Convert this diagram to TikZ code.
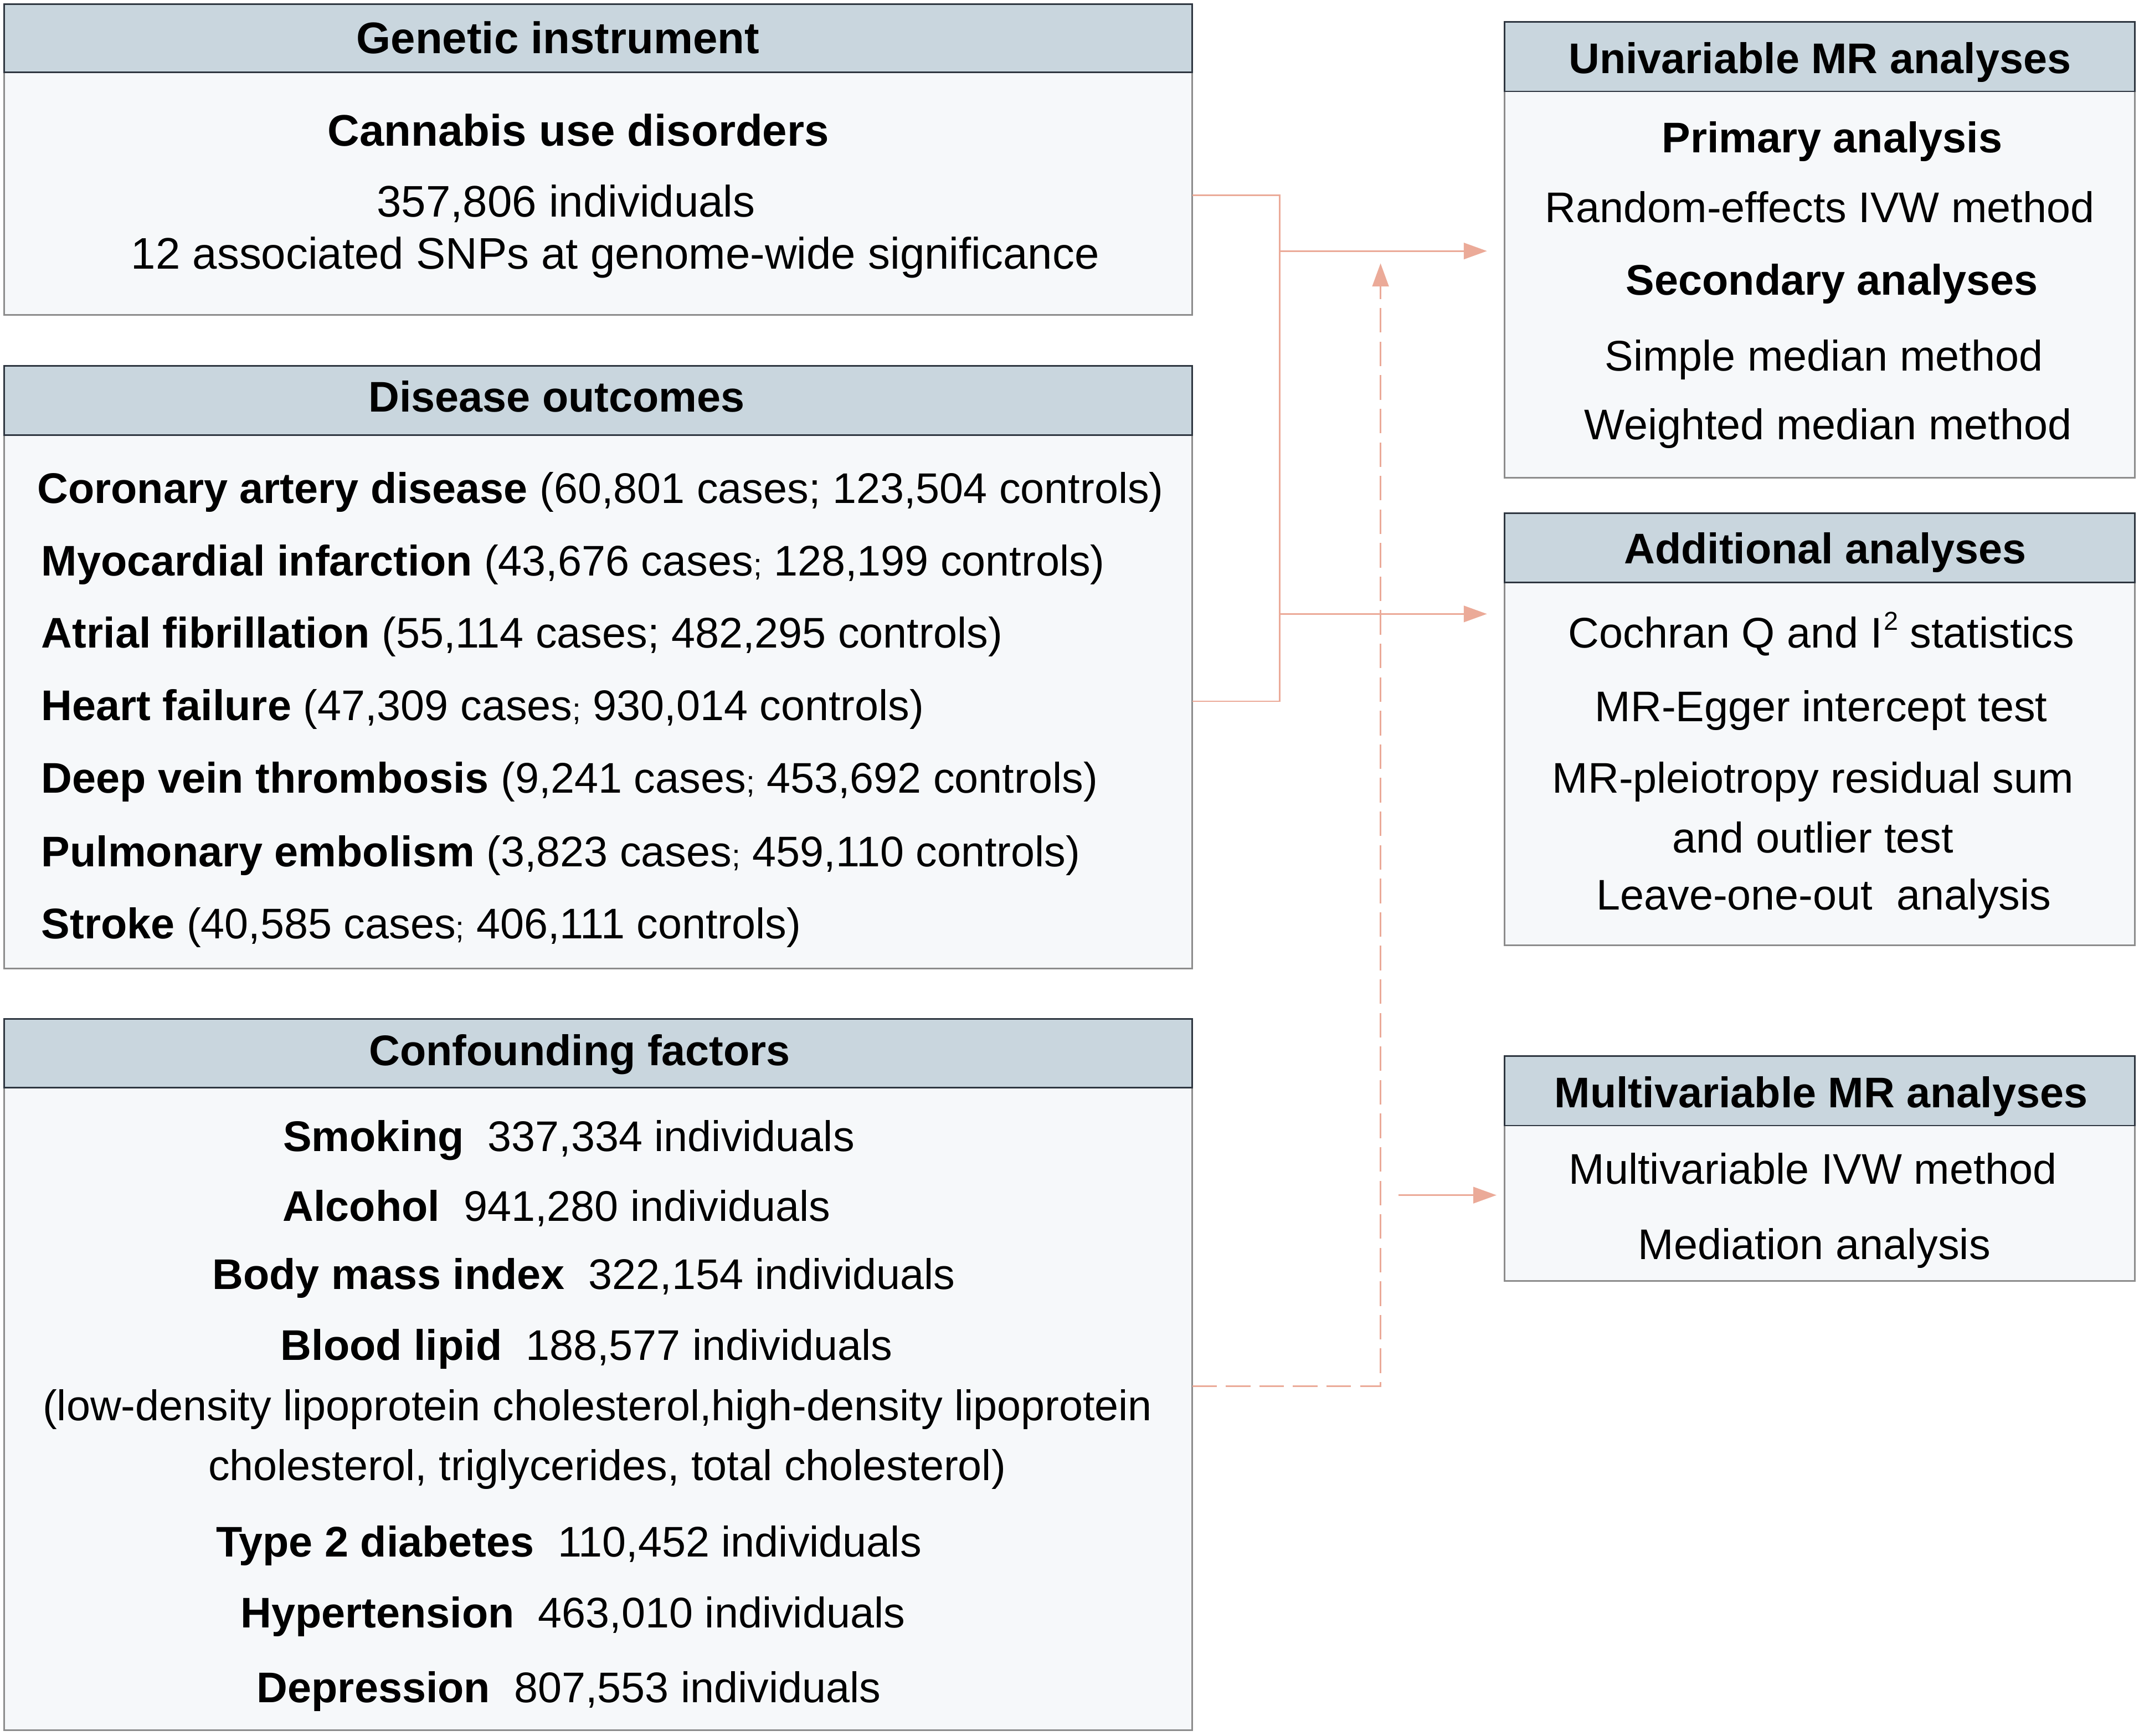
\documentclass[tikz,border=0pt]{standalone}
\usepackage{fontspec}
\setmainfont{Liberation Sans}
\usetikzlibrary{arrows.meta}
\definecolor{hdrfill}{HTML}{C9D6DE}
\definecolor{bdyfill}{HTML}{F6F8FA}
\definecolor{lnkcol}{HTML}{EBAA98}
\definecolor{bordcol}{HTML}{8C8C8C}
\definecolor{hbordcol}{HTML}{2E3640}
\newcommand{\smsemi}{{\fontsize{11.5}{12}\selectfont;}}
\begin{document}
\begin{tikzpicture}[x=0.5pt,y=-0.5pt,
  bodybox/.style={draw=bordcol,fill=bdyfill,line width=0.6pt,anchor=north west,inner sep=0pt,outer sep=0pt},
  headbox/.style={draw=hbordcol,fill=hdrfill,line width=0.6pt,anchor=north west,inner sep=0pt,outer sep=0pt},
  txt/.style={inner sep=0pt,anchor=base,font=\fontsize{15.7}{19}\selectfont},
  ltxt/.style={txt,anchor=base west},
  htxt/.style={txt,font=\fontsize{15.7}{19}\selectfont\bfseries},
  bigtxt/.style={txt,font=\fontsize{16.2}{19}\selectfont},
  bightxt/.style={txt,font=\fontsize{16.2}{19}\selectfont\bfseries},
  conn/.style={draw=lnkcol,line width=0.55pt},
  arr/.style={conn,-{Triangle[length=8.5pt,width=6pt]}},
  darr/.style={draw=lnkcol,line width=0.7pt,dash pattern=on 9pt off 3.3pt,-{Triangle[length=8.5pt,width=6pt]}}
]
\useasboundingbox[fill=white] (0,0) rectangle (1568,1272.4);

% ---------- left boxes ----------
\node[bodybox,minimum width=435.5pt,minimum height=114pt] (gi) at (3,3) {};
\node[headbox,minimum width=435.5pt,minimum height=25pt] (gih) at (3,3) {};
\node[bightxt] (git) at (409,39) {Genetic instrument};
\node[bightxt] (gi1) at (424,107) {Cannabis use disorders};
\node[bigtxt] (gi2) at (415,159) {357,806 individuals};
\node[bigtxt] (gi3) at (451,197) {12 associated SNPs at genome-wide significance};

\node[bodybox,minimum width=435.5pt,minimum height=221pt] (do) at (3,268) {};
\node[headbox,minimum width=435.5pt,minimum height=25.5pt] (doh) at (3,268) {};
\node[htxt] (dot) at (408,302) {Disease outcomes};
\node[ltxt] (do1) at (27,369) {\textbf{Coronary artery disease} (60,801 cases; 123,504 controls)};
\node[ltxt] (do2) at (30,422) {\textbf{Myocardial infarction} (43,676 cases\smsemi\ 128,199 controls)};
\node[ltxt] (do3) at (30,475) {\textbf{Atrial fibrillation} (55,114 cases; 482,295 controls)};
\node[ltxt] (do4) at (30,528) {\textbf{Heart failure} (47,309 cases\smsemi\ 930,014 controls)};
\node[ltxt] (do5) at (30,581) {\textbf{Deep vein thrombosis} (9,241 cases\smsemi\ 453,692 controls)};
\node[ltxt] (do6) at (30,635) {\textbf{Pulmonary embolism} (3,823 cases\smsemi\ 459,110 controls)};
\node[ltxt] (do7) at (30,688) {\textbf{Stroke} (40,585 cases\smsemi\ 406,111 controls)};

\node[bodybox,minimum width=435.5pt,minimum height=260.5pt] (cf) at (3,747) {};
\node[headbox,minimum width=435.5pt,minimum height=25pt] (cfh) at (3,747) {};
\node[htxt] (cft) at (425,781) {Confounding factors};
\node[txt] (cf1) at (417,844) {\textbf{Smoking}\ \ 337,334 individuals};
\node[txt] (cf2) at (408,895) {\textbf{Alcohol}\ \ 941,280 individuals};
\node[txt] (cf3) at (428,945) {\textbf{Body mass index}\ \ 322,154 individuals};
\node[txt] (cf4) at (430,997) {\textbf{Blood lipid}\ \ 188,577 individuals};
\node[txt] (cf5) at (438,1041) {(low-density lipoprotein cholesterol,high-density lipoprotein};
\node[txt] (cf6) at (445,1085) {cholesterol, triglycerides, total cholesterol)};
\node[txt] (cf7) at (417,1141) {\textbf{Type 2 diabetes}\ \ 110,452 individuals};
\node[txt] (cf8) at (420,1193) {\textbf{Hypertension}\ \ 463,010 individuals};
\node[txt] (cf9) at (417,1248) {\textbf{Depression}\ \ 807,553 individuals};

% ---------- right boxes ----------
\node[bodybox,minimum width=231pt,minimum height=167pt] (uv) at (1103,16) {};
\node[headbox,minimum width=231pt,minimum height=25.5pt] (uvh) at (1103,16) {};
\node[htxt] (uvt) at (1334,54) {Univariable MR analyses};
\node[htxt] (uv1) at (1343,112) {Primary analysis};
\node[txt] (uv2) at (1334,163) {Random-effects IVW method};
\node[htxt] (uv3) at (1343,216) {Secondary analyses};
\node[txt] (uv4) at (1337,272) {Simple median method};
\node[txt] (uv5) at (1340,322) {Weighted median method};

\node[bodybox,minimum width=231pt,minimum height=158.5pt] (aa) at (1103,376) {};
\node[headbox,minimum width=231pt,minimum height=25.5pt] (aah) at (1103,376) {};
\node[htxt] (aat) at (1338,413) {Additional analyses};
\node[txt] (aa1) at (1335,475) {Cochran Q and I\kern0.5pt\raisebox{0.42em}{\fontsize{9.5}{10}\selectfont 2} statistics};
\node[txt] (aa2) at (1335,529) {MR-Egger intercept test};
\node[txt] (aa3) at (1329,581) {MR-pleiotropy residual sum};
\node[txt] (aa4) at (1329,625) {and outlier test};
\node[txt] (aa5) at (1337,667) {Leave-one-out\ \ analysis};

\node[bodybox,minimum width=231pt,minimum height=82.5pt] (mv) at (1103,774) {};
\node[headbox,minimum width=231pt,minimum height=25.5pt] (mvh) at (1103,774) {};
\node[htxt] (mvt) at (1335,812) {Multivariable MR analyses};
\node[txt] (mv1) at (1329,868) {Multivariable IVW method};
\node[txt] (mv2) at (1330,923) {Mediation analysis};

% ---------- connectors ----------
\coordinate (j1) at (938,143);
\coordinate (j2) at (938,514);
\coordinate (j3) at (938,184);
\coordinate (j4) at (938,450);
\coordinate (t1) at (1090,184);
\coordinate (t2) at (1090,450);
\coordinate (d1) at (1012,1016);
\coordinate (d2) at (1012,193);
\coordinate (m1) at (1025,876);
\coordinate (m2) at (1097,876);

\draw[conn] (gi.east |- j1) -- (j1) -- (j2) -- (do.east |- j2);
\draw[arr] (j3) -- (t1);
\draw[arr] (j4) -- (t2);
\draw[darr] (cf.east |- d1) -- (d1) -- (d2);
\draw[arr] (m1) -- (m2);
\end{tikzpicture}
\end{document}
